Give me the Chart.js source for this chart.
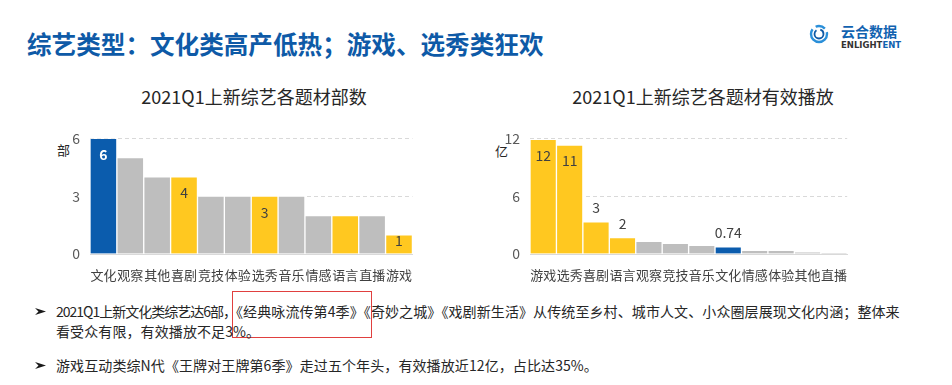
<!DOCTYPE html>
<html>
<head>
<meta charset="utf-8">
<script src="https://cdn.jsdelivr.net/npm/chart.js@4/dist/chart.umd.min.js"></script>
<style>
  body { margin: 0; width: 952px; height: 385px; background: #fff; position: relative; overflow: hidden;
         font-family: "Noto Sans CJK SC", "Noto Sans", sans-serif; }
  .abs { position: absolute; white-space: nowrap; }
  #title { left: 27px; top: 27px; font-size: 24.6px; font-weight: bold; color: #0E5AA7; line-height: 32px; }
  .ctitle { top: 84px; font-size: 18px; color: #262626; line-height: 24px; transform: translateX(-50%); }
  .unit { font-size: 13px; color: #262626; }
  .box { position: absolute; }
  .txt { left: 56px; font-size: 14px; color: #262626; line-height: 20px; letter-spacing: 0.1px; }
  .tight { letter-spacing: -1px; }
  .hl { position: relative; }
  .hl::after { content: ''; position: absolute; left: -4px; right: -8px; top: -10px; bottom: -17px; border: 1px solid #E0403F; }
  .wm { color: rgba(0,0,0,0.018); font-size: 40px; font-weight: bold; transform: rotate(-28deg); }
</style>
</head>
<body>
<div class="abs" id="title">综艺类型：文化类高产低热；游戏、选秀类狂欢</div>

<!-- logo -->
<svg class="abs" style="left:809px;top:24px" width="20" height="20" viewBox="0 0 20 20">
  <circle cx="10" cy="10" r="8" fill="none" stroke="#2A8FD9" stroke-width="2.4" stroke-dasharray="30 4 10 4"/>
  <circle cx="10" cy="10" r="4.5" fill="none" stroke="#0E5AA7" stroke-width="1.8" stroke-dasharray="18 4"/>
</svg>
<div class="abs" style="left:841px;top:22px;font-size:14px;font-weight:bold;color:#1162B0;line-height:18px">云合数据</div>
<div class="abs" style="left:841px;top:40px;font-size:8.5px;font-weight:bold;color:#333;line-height:10px;font-family:'DejaVu Sans'">ENLIGHT<span style="color:#1162B0">ENT</span></div>

<div class="abs wm" style="left:230px;top:230px">云合数据 ENLIGHTENT</div>
<div class="abs wm" style="left:640px;top:190px">云合数据 ENLIGHTENT</div>

<div class="abs ctitle" style="left:254px">2021Q1上新综艺各题材部数</div>
<div class="abs ctitle" style="left:703px">2021Q1上新综艺各题材有效播放</div>

<div class="abs unit" style="left:57px;top:140px">部</div>
<div class="abs unit" style="left:495px;top:141px">亿</div>

<div class="box" style="left:40px;top:120px;width:385px;height:170px"><canvas id="countChart"></canvas></div>
<div class="box" style="left:480px;top:120px;width:380px;height:170px"><canvas id="playChart"></canvas></div>

<!-- bullets -->
<svg class="abs" style="left:35px;top:308px" width="11" height="7" viewBox="0 0 11 7"><polygon points="0,0 11,3.5 0,7 3.5,3.5" fill="#1a1a1a"/></svg>
<svg class="abs" style="left:35px;top:362px" width="11" height="7" viewBox="0 0 11 7"><polygon points="0,0 11,3.5 0,7 3.5,3.5" fill="#1a1a1a"/></svg>

<div class="abs txt" style="top:301px"><span class="tight">2021Q1上新文化类综艺达6部，</span><span class="hl">《经典咏流传第4季》</span>《奇妙之城》《戏剧新生活》从传统至乡村、城市人文、小众圈层展现文化内涵；整体来</div>
<div class="abs txt" style="top:321px">看受众有限，有效播放不足3%。</div>
<div class="abs txt" style="top:355px">游戏互动类综N代《王牌对王牌第6季》走过五个年头，有效播放近12亿，占比达35%。</div>

<script>
// 左：各题材部数
const countCategories = ['文化', '观察', '其他', '喜剧', '竞技', '体验', '选秀', '音乐', '情感', '语言', '直播', '游戏'];
const countValues = [6, 5, 4, 4, 3, 3, 3, 3, 2, 2, 2, 1];
const countLabels = ['6', '', '', '4', '', '', '3', '', '', '', '', '1'];
const countTicks = [0, 3, 6];

// 右：各题材有效播放（亿）
const playCategories = ['游戏', '选秀', '喜剧', '语言', '观察', '竞技', '音乐', '文化', '情感', '体验', '其他', '直播'];
const playValues = [11.9, 11.3, 3.35, 1.7, 1.32, 1.1, 0.9, 0.74, 0.38, 0.38, 0.2, 0.03];
const playLabels = ['12', '11', '3', '2', '', '', '', '0.74', '', '', '', ''];
const playTicks = [0, 6, 12];

const focusCategory = '文化';
const hotCategories = ['游戏', '选秀', '喜剧', '语言'];

const BLUE = '#0B5CAD';
const YELLOW = '#FFC820';
const GRAY = '#BEBEBE';

function barColor(cat) {
    if (cat === focusCategory) return BLUE;
    if (hotCategories.includes(cat)) return YELLOW;
    return GRAY;
}

// 数值ラベル（棒の上端付近）
const barLabelPlugin = {
    id: 'barLabels',
    afterDatasetsDraw(chart, args, opts) {
        const ctx = chart.ctx;
        const meta = chart.getDatasetMeta(0);
        const bottom = chart.chartArea.bottom;
        ctx.save();
        ctx.textAlign = 'center';
        ctx.textBaseline = 'middle';
        meta.data.forEach((bar, i) => {
            const text = opts.labels[i];
            if (!text) return;
            const h = bottom - bar.y;
            let y;
            if (opts.inside || h > 60) {
                y = Math.min(bar.y + 16, (bar.y + bottom) / 2 - 4);
            } else {
                y = bar.y - 14;
            }
            const isBlue = chart.data.datasets[0].backgroundColor[i] === BLUE;
            const inside = y > bar.y;
            ctx.fillStyle = (isBlue && inside) ? '#fff' : '#404040';
            ctx.font = (isBlue && inside ? 'bold ' : '') + '14px "Noto Sans CJK SC", sans-serif';
            ctx.fillText(text, bar.x, y);
        });
        ctx.restore();
    }
};

function buildChart(canvasId, cats, values, labels, ticks, inside) {
    const max = ticks[ticks.length - 1];
    return new Chart(document.getElementById(canvasId), {
        type: 'bar',
        data: {
            labels: cats,
            datasets: [{
                data: values,
                backgroundColor: cats.map(barColor),
                borderColor: '#ffffff',
                borderWidth: 1,
                borderSkipped: 'bottom',
                categoryPercentage: 1,
                barPercentage: 1
            }]
        },
        options: {
            responsive: true,
            maintainAspectRatio: false,
            animation: false,
            layout: { padding: { top: 3, right: 0, left: 0, bottom: 0 } },
            plugins: {
                legend: { display: false },
                tooltip: { enabled: false },
                barLabels: { labels: labels, inside: inside }
            },
            scales: {
                x: {
                    grid: { display: false, drawTicks: false },
                    border: { display: true, color: '#D9D9D9', width: 1 },
                    ticks: {
                        autoSkip: false, maxRotation: 0, minRotation: 0, padding: 13,
                        color: '#404040',
                        font: { size: 13, family: '"Noto Sans CJK SC", sans-serif' }
                    },
                    afterFit(scale) { scale.height = 36; }
                },
                y: {
                    min: 0, max: max,
                    afterBuildTicks(scale) { scale.ticks = ticks.map(v => ({ value: v })); },
                    grid: {
                        drawTicks: false,
                        color: (c) => (c.tick && c.tick.value === 0) ? 'rgba(0,0,0,0)' : '#D9D9D9'
                    },
                    border: { display: false, dash: [4, 3] },
                    ticks: {
                        padding: 10,
                        color: '#595959',
                        font: { size: 14, family: '"Noto Sans CJK SC", sans-serif' }
                    },
                    afterFit(scale) { scale.width = 50; }
                }
            }
        },
        plugins: [barLabelPlugin]
    });
}

buildChart('countChart', countCategories, countValues, countLabels, countTicks, true);
buildChart('playChart', playCategories, playValues, playLabels, playTicks, false);
</script>
</body>
</html>
